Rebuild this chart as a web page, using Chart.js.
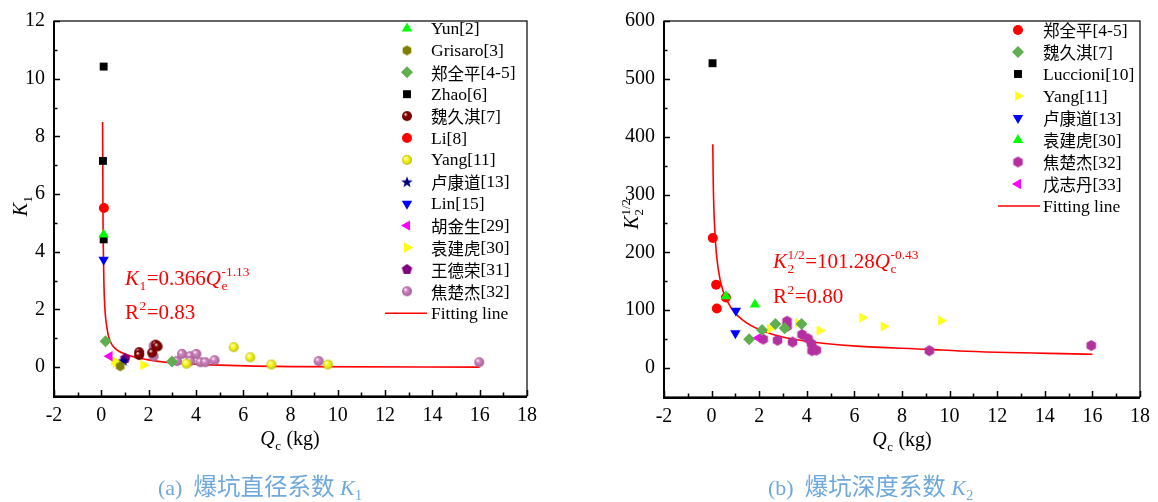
<!DOCTYPE html>
<html><head><meta charset="utf-8">
<script src="https://cdn.jsdelivr.net/npm/chart.js@4.4.1/dist/chart.umd.min.js"></script>
<style>
html,body{margin:0;padding:0;background:#fff;}
#wrap{position:relative;width:1158px;height:502px;overflow:hidden;background:#fff;}
.box{position:absolute;top:0;width:579px;height:502px;}
</style></head><body>
<div id="wrap">
<div class="box" style="left:0"><canvas id="c1" width="579" height="502"></canvas></div>
<div class="box" style="left:579px"><canvas id="c2" width="579" height="502"></canvas></div>
</div>
<script>
// ---------- tick labels ----------
const xTickLabels = [-2,0,2,4,6,8,10,12,14,16,18];
const k1TickLabels = [0,2,4,6,8,10,12];
const k2TickLabels = [0,100,200,300,400,500,600];

// ---------- chart (a): K1 vs Qc ----------
const a_names = ['Yun[2]','Grisaro[3]','郑全平[4-5]','Zhao[6]','魏久淇[7]','Li[8]','Yang[11]','卢康道[13]','Lin[15]','胡金生[29]','袁建虎[30]','王德荣[31]','焦楚杰[32]','Fitting line'];
const a_Yun = [[0.1,4.6]];
const a_Grisaro = [[0.8,0.03]];
const a_Zheng = [[0.18,0.9],[2.99,0.2]];
const a_Zhao = [[0.1,10.42],[0.07,7.15],[0.1,4.43]];
const a_Wei = [[1.6,0.52],[1.6,0.42],[2.15,0.5],[2.3,0.78],[2.38,0.72]];
const a_Li = [[0.11,5.52]];
const a_Yang = [[3.6,0.12],[5.6,0.69],[6.3,0.34],[7.19,0.09],[9.58,0.09]];
const a_Lu = [[0.94,0.23]];
const a_Lin = [[0.1,3.72]];
const a_Hu = [[0.35,0.38]];
const a_Yuan = [[0.55,0.22],[0.62,0.15],[1.78,0.07]];
const a_WangDR = [[1.01,0.3]];
const a_Jiao = [[2.21,0.74],[2.21,0.38],[3.2,0.21],[3.41,0.46],[3.76,0.38],[3.76,0.21],[4.02,0.46],[4.19,0.17],[4.4,0.17],[4.79,0.24],[9.19,0.21],[15.98,0.17]];
const a_Fit = [[0.055,8.5],[0.07,5.5],[0.1,3.4],[0.13,2.4],[0.24,1.35],[0.38,0.89],[0.66,0.6],[1.09,0.43],[1.93,0.26],[2.92,0.15],[5.03,0.07],[8.13,0.02],[16,0.0]];

// ---------- chart (b): K2^(1/2) vs Qc ----------
const b_names = ['郑全平[4-5]','魏久淇[7]','Luccioni[10]','Yang[11]','卢康道[13]','袁建虎[30]','焦楚杰[32]','戊志丹[33]','Fitting line'];
const b_Zheng = [[0.05,225],[0.19,144],[0.22,103],[0.6,122]];
const b_Wei = [[1.58,50],[2.12,66],[2.68,76],[3.07,69],[3.78,76]];
const b_Luccioni = [[0.04,527]];
const b_Yang = [[2.45,68],[3.63,78],[4.54,65],[6.33,87],[7.23,72],[9.64,82]];
const b_Lu = [[1.02,99],[1.0,60]];
const b_Yuan = [[0.6,124],[1.82,110]];
const b_Jiao = [[2.17,50],[2.77,48],[3.17,81],[3.17,72],[3.4,45],[3.8,58],[4.05,51],[4.2,42],[4.22,30],[4.4,31],[9.15,30],[15.95,39]];
const b_Wu = [[1.96,52]];
const b_Fit = [[0.05,387],[0.07,319],[0.15,228],[0.28,171],[0.49,132],[0.84,103],[1.47,78],[2.58,58],[3.98,46.5],[6.08,38],[9.15,32.4],[10.4,29.5],[16,23.8]];

// ---------- marker images ----------
function shade(hex, f){
  const n=parseInt(hex.slice(1),16); let r=(n>>16)&255,g=(n>>8)&255,b=n&255;
  r=Math.round(r*f);g=Math.round(g*f);b=Math.round(b*f);
  return 'rgb('+r+','+g+','+b+')';
}
function sphereImg(color, r){
  const c=document.createElement('canvas'); const s=Math.ceil(r*2+2); c.width=c.height=s;
  const g=c.getContext('2d'); const cx=s/2, cy=s/2;
  const gr=g.createRadialGradient(cx-r*0.35, cy-r*0.4, r*0.05, cx, cy, r);
  gr.addColorStop(0,'#ffffff'); gr.addColorStop(0.35,color); gr.addColorStop(1,shade(color,0.75));
  g.fillStyle=gr; g.beginPath(); g.arc(cx,cy,r,0,Math.PI*2); g.fill();
  return c;
}
function polyImg(color, r, n, rot){
  const c=document.createElement('canvas'); const s=Math.ceil(r*2+2); c.width=c.height=s;
  const g=c.getContext('2d'); const cx=s/2, cy=s/2;
  g.fillStyle=color; g.beginPath();
  for(let i=0;i<n;i++){const a=rot+i*2*Math.PI/n; const px=cx+r*Math.sin(a), py=cy-r*Math.cos(a); i?g.lineTo(px,py):g.moveTo(px,py);}
  g.closePath(); g.fill(); return c;
}
function starImg(color, r){
  const c=document.createElement('canvas'); const s=Math.ceil(r*2+2); c.width=c.height=s;
  const g=c.getContext('2d'); const cx=s/2, cy=s/2+0.5;
  g.fillStyle=color; g.beginPath();
  for(let i=0;i<10;i++){const rr=i%2?r*0.42:r; const a=i*Math.PI/5; const px=cx+rr*Math.sin(a), py=cy-rr*Math.cos(a); i?g.lineTo(px,py):g.moveTo(px,py);}
  g.closePath(); g.fill(); return c;
}

const pts = arr => arr.map(p=>({x:p[0],y:p[1]}));
function sc(label, data, style, color, radius, rot, order){
  return {label, data:pts(data), showLine:false, pointStyle:style, pointRotation:rot||0,
    pointRadius:radius, pointBackgroundColor:color, pointBorderColor:color, pointBorderWidth:0,
    backgroundColor:color, borderColor:color, order:order||0};
}
function fit(label, data){
  return {label, data:pts(data), showLine:true, isFit:true, pointRadius:0, borderColor:'#ff0000',
    backgroundColor:'#ff0000', borderWidth:1.6, cubicInterpolationMode:'monotone', fill:false, order:5};
}

const SERIF='"Liberation Serif","Noto Sans CJK SC",serif';
const CJK='"Noto Sans CJK SC",sans-serif';
function fnt(size, it){ return (it?'italic ':'')+size+'px '+SERIF; }
function isCJK(ch){ return /[\u3400-\u9fff]/.test(ch); }
// text with separate sizes for CJK and Latin runs
function drawMixed(ctx, text, x, y, latin, cjk, measureOnly){
  const runs=[]; for(const ch of text){const c=isCJK(ch); if(runs.length&&runs[runs.length-1].c===c) runs[runs.length-1].t+=ch; else runs.push({t:ch,c});}
  let cx=x;
  runs.forEach(r=>{ctx.font=r.c?(cjk+'px '+CJK):(latin+'px '+SERIF); if(!measureOnly) ctx.fillText(r.t,cx,y); cx+=ctx.measureText(r.t).width;});
  return cx-x;
}
// rich text: parts [{t,i,cjk}] or {sub,sup}
function drawRich(ctx, parts, x, y, size, color, align){
  ctx.save(); ctx.fillStyle=color; ctx.textBaseline='alphabetic'; ctx.textAlign='left';
  const ss=size*0.64;
  const ws=parts.map(p=>{
    if(p.t===undefined){ctx.font=fnt(ss,false);
      return Math.max(p.sub?ctx.measureText(p.sub).width:0, p.sup?ctx.measureText(p.sup).width:0)+1;}
    if(p.cjk) return drawMixed(ctx,p.t,0,0,size,p.cjk,true);
    ctx.font=fnt(size,p.i); return ctx.measureText(p.t).width;});
  const tot=ws.reduce((a,b)=>a+b,0);
  let cx = align==='center'? x-tot/2 : x;
  parts.forEach((p,k)=>{
    if(p.t===undefined){ctx.font=fnt(ss,false);
      if(p.sub) ctx.fillText(p.sub,cx+0.5,y+size*0.24);
      if(p.sup) ctx.fillText(p.sup,cx+0.5,y-size*0.42);
    } else if(p.cjk){ drawMixed(ctx,p.t,cx,y,size,p.cjk,false); }
    else {ctx.font=fnt(size,p.i); ctx.fillText(p.t,cx,y);}
    cx+=ws[k];
  });
  ctx.restore();
}

// plugin: frame, inward ticks, legend, titles, annotations
const decoPlugin = {
  id:'deco',
  afterDraw(chart, args, o){
    const ctx=chart.ctx, a=chart.chartArea, xs=chart.scales.x, ys=chart.scales.y;
    ctx.save();
    ctx.strokeStyle='#000';
    ctx.lineWidth=1.2; ctx.strokeRect(a.left, a.top, a.right-a.left, a.bottom-a.top);
    ctx.lineWidth=2;
    ctx.beginPath(); ctx.moveTo(a.left, a.top); ctx.lineTo(a.left, a.bottom+1); ctx.lineTo(a.right, a.bottom+1); ctx.stroke();
    ctx.lineWidth=1.5;
    const xt=o.xTicks, yt=o.yTicks;
    ctx.beginPath();
    xt.forEach((v,i)=>{const p=Math.round(xs.getPixelForValue(v))+0.5; ctx.moveTo(p,a.bottom); ctx.lineTo(p,a.bottom-6);
      if(i<xt.length-1){const m=Math.round(xs.getPixelForValue((v+xt[i+1])/2))+0.5; ctx.moveTo(m,a.bottom); ctx.lineTo(m,a.bottom-3.5);}});
    yt.forEach((v,i)=>{const p=Math.round(ys.getPixelForValue(v))+0.5; ctx.moveTo(a.left,p); ctx.lineTo(a.left+6,p);
      if(i<yt.length-1){const m=Math.round(ys.getPixelForValue((v+yt[i+1])/2))+0.5; ctx.moveTo(a.left,m); ctx.lineTo(a.left+3.5,m);}});
    ctx.stroke();
    // legend
    const L=o.legend;
    chart.data.datasets.forEach((ds,i)=>{
      const y=L.y0+i*L.dy;
      if(ds.isFit){
        ctx.strokeStyle=ds.borderColor; ctx.lineWidth=1.6;
        ctx.beginPath(); ctx.moveTo(L.lx0,y); ctx.lineTo(L.lx1,y); ctx.stroke();
      } else {
        ctx.fillStyle=ds.pointBackgroundColor; ctx.strokeStyle=ds.pointBorderColor;
        Chart.helpers.drawPoint(ctx,{pointStyle:ds.pointStyle, rotation:ds.pointRotation||0, radius:ds.pointRadius, borderWidth:0}, L.sx, y);
      }
      ctx.fillStyle='#000'; ctx.textBaseline='middle'; ctx.textAlign='left';
      drawMixed(ctx, ds.label, L.tx, y+1, 17.5, 16.5, false);
    });
    ctx.restore();
    // titles
    drawRich(ctx, o.xTitle.parts, o.xTitle.x, o.xTitle.y, 20, '#000', 'center');
    ctx.save(); ctx.translate(o.yTitle.x, o.yTitle.y); ctx.rotate(-Math.PI/2);
    drawRich(ctx, o.yTitle.parts, 0, 7, 20, '#000', 'center'); ctx.restore();
    o.notes.forEach(n=>drawRich(ctx, n.parts, n.x, n.y, 21, '#ff0000', 'left'));
    drawRich(ctx, o.caption.parts, o.caption.x, o.caption.y, 22, '#6fa8dc', 'left');
  }
};

function makeChart(id, datasets, yMin, yMax, yTicks, area, deco){
  const W=579,H=502;
  return new Chart(document.getElementById(id), {
    type:'scatter',
    data:{datasets},
    options:{
      responsive:false, animation:false, events:[],
      layout:{padding:{left:0, right:W-area.right, top:area.top, bottom:H-area.bottom-50}},
      plugins:{legend:{display:false}, tooltip:{enabled:false}, deco},
      scales:{
        x:{type:'linear', min:-2, max:18, border:{display:false}, grid:{display:false, drawTicks:false},
          afterBuildTicks:s=>{s.ticks=xTickLabels.map(v=>({value:v}));},
          afterFit:s=>{s.height=50;},
          ticks:{autoSkip:false, maxRotation:0, padding:8, color:'#000', font:{family:SERIF,size:20}}},
        y:{type:'linear', min:yMin, max:yMax, border:{display:false}, grid:{display:false, drawTicks:false},
          afterBuildTicks:s=>{s.ticks=yTicks.map(v=>({value:v}));},
          afterFit:s=>{s.width=area.left;},
          ticks:{autoSkip:false, padding:9, color:'#000', font:{family:SERIF,size:20}}}
      }
    },
    plugins:[decoPlugin]
  });
}

// chart (a)
const dsA = [
  sc(a_names[0], a_Yun, 'triangle', '#00ff00', 6),
  sc(a_names[1], a_Grisaro, polyImg('#808000',5,6,0), '#808000', 5),
  sc(a_names[2], a_Zheng, 'rectRot', '#5fae4f', 6),
  sc(a_names[3], a_Zhao, 'rect', '#000000', 5.6),
  sc(a_names[4], a_Wei, sphereImg('#8b0000',5), '#8b0000', 5),
  sc(a_names[5], a_Li, 'circle', '#ff0000', 5),
  sc(a_names[6], a_Yang, sphereImg('#ffff20',5), '#ffff20', 5),
  sc(a_names[7], a_Lu, starImg('#000080',6), '#000080', 6),
  sc(a_names[8], a_Lin, 'triangle', '#0000ff', 6, 180),
  sc(a_names[9], a_Hu, 'triangle', '#ff00ff', 6, -90),
  sc(a_names[10], a_Yuan, 'triangle', '#ffff00', 6, 90),
  sc(a_names[11], a_WangDR, polyImg('#800080',5.5,5,0), '#800080', 5),
  sc(a_names[12], a_Jiao, sphereImg('#d584c4',5), '#d584c4', 5),
  fit(a_names[13], a_Fit)
];
makeChart('c1', dsA, -1, 12, k1TickLabels, {left:54, right:527, top:16, bottom:396}, {
  xTicks:xTickLabels, yTicks:k1TickLabels,
  legend:{y0:28.5, dy:21.9, sx:407, tx:431, lx0:385, lx1:427},
  xTitle:{x:290, y:445, parts:[{t:'Q',i:true},{sub:'c'},{t:' (kg)'}]},
  yTitle:{x:20, y:206, parts:[{t:'K',i:true},{sub:'1'}]},
  notes:[
    {x:125, y:285, parts:[{t:'K',i:true},{sub:'1'},{t:'=0.366'},{t:'Q',i:true},{sub:'e',sup:'-1.13'}]},
    {x:125, y:319, parts:[{t:'R'},{sup:'2'},{t:'=0.83'}]}
  ],
  caption:{x:158, y:495, parts:[{t:'(a)  ',},{t:'爆坑直径系数',cjk:23.5},{t:' '},{t:'K',i:true},{sub:'1'}]}
});

// chart (b)
const dsB = [
  sc(b_names[0], b_Zheng, 'circle', '#ff0000', 5),
  sc(b_names[1], b_Wei, 'rectRot', '#5fae4f', 6),
  sc(b_names[2], b_Luccioni, 'rect', '#000000', 5.6),
  sc(b_names[3], b_Yang, 'triangle', '#ffff20', 6, 90),
  sc(b_names[4], b_Lu, 'triangle', '#0000ff', 6, 180),
  sc(b_names[5], b_Yuan, 'triangle', '#00ff00', 6, 0, -1),
  sc(b_names[6], b_Jiao, polyImg('#b5309f',5.5,6,0), '#b5309f', 5),
  sc(b_names[7], b_Wu, 'triangle', '#ff00ff', 6, -90),
  fit(b_names[8], b_Fit)
];
makeChart('c2', dsB, -50, 600, k2TickLabels, {left:85, right:561, top:15, bottom:397}, {
  xTicks:xTickLabels, yTicks:k2TickLabels,
  legend:{y0:30, dy:22, sx:439, tx:464, lx0:419, lx1:461},
  xTitle:{x:323, y:446, parts:[{t:'Q',i:true},{sub:'c'},{t:' (kg)'}]},
  yTitle:{x:52, y:214, parts:[{t:'K',i:true},{sub:'2',sup:'1/2'}]},
  notes:[
    {x:194, y:268, parts:[{t:'K',i:true},{sub:'2',sup:'1/2'},{t:'=101.28'},{t:'Q',i:true},{sub:'c',sup:'-0.43'}]},
    {x:194, y:303, parts:[{t:'R'},{sup:'2'},{t:'=0.80'}]}
  ],
  caption:{x:189, y:495, parts:[{t:'(b)  '},{t:'爆坑深度系数',cjk:23.5},{t:' '},{t:'K',i:true},{sub:'2'}]}
});
</script>
</body></html>
